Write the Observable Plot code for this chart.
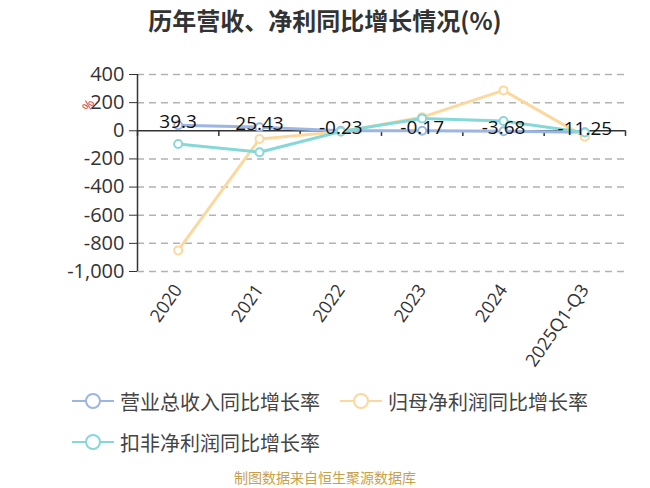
<!DOCTYPE html>
<html>
<head>
<meta charset="utf-8">
<script src="https://cdn.jsdelivr.net/npm/d3@7"></script>
<script src="https://cdn.jsdelivr.net/npm/@observablehq/plot@0.6"></script>
<style>
  html, body { margin: 0; padding: 0; background: #fff; }
  body { width: 650px; height: 488px; overflow: hidden; font-family: "Open Sans", "Noto Sans CJK SC", sans-serif; }
  #title { height: 45px; line-height: 40px; text-align: center; font-family: "Noto Sans CJK SC", sans-serif; font-weight: bold; font-size: 24px; color: #333; }
  #legend { position: absolute; left: 72px; top: 382px; width: 560px; display: flex; flex-wrap: wrap; column-gap: 20px; row-gap: 3px; font-family: "Noto Sans CJK SC", sans-serif; font-size: 20px; color: #444; }
  .item { display: flex; align-items: center; height: 38px; }
  .item svg { margin-right: 6px; }
  #caption { position: absolute; left: 0; top: 467px; width: 650px; text-align: center; font-family: "Noto Sans CJK SC", sans-serif; font-size: 14px; color: #c9a04a; }
  #chart { position: absolute; left: 0; top: 45px; }
</style>
</head>
<body>
<div id="title">历年营收、净利同比增长情况(%)</div>
<div id="chart"></div>
<div id="legend"></div>
<div id="caption">制图数据来自恒生聚源数据库</div>
<script>
const categories = ["2020", "2021", "2022", "2023", "2024", "2025Q1-Q3"];
const revenueGrowth = [39.3, 25.43, -0.23, -0.17, -3.68, -11.25];
const netProfitGrowth = [-850, -58, -6, 97, 287, -43];
const deductedProfitGrowth = [-94, -152, -5, 88, 69, -12];
const yTicks = [400, 200, 0, -200, -400, -600, -800, -1000];
const seriesNames = ["营业总收入同比增长率", "归母净利润同比增长率", "扣非净利润同比增长率"];
const seriesColors = ["#9db5e2", "#fdd89e", "#86d8d8"];

const seriesValues = [revenueGrowth, netProfitGrowth, deductedProfitGrowth];
const idx = categories.map((_, i) => i);
const boundaries = d3.range(categories.length + 1).map(i => i - 0.5);
const rows = seriesValues.map((vals, s) => vals.map((v, i) => ({i, v, s})));
const fmt = d => d.toLocaleString("en-US");

const marks = [
  Plot.ruleY(yTicks.filter(d => d !== 0), {stroke: "#b3b3b3", strokeWidth: 1.5, strokeDasharray: "7,5"}),
  Plot.ruleX([-0.5], {stroke: "#333", strokeWidth: 1.5}),
  Plot.ruleY([0], {stroke: "#333", strokeWidth: 1.5}),
  Plot.ruleX(boundaries, {y1: 0, y2: -40, stroke: "#333", strokeWidth: 1.5}),
  Plot.axisY({ticks: yTicks, tickFormat: fmt, tickSize: 8, tickPadding: 5, fontSize: 20, color: "#333", stroke: "#333", label: null}),
  Plot.axisX({ticks: idx, tickFormat: i => categories[i], tickSize: 0, tickRotate: -55, fontSize: 18, tickPadding: 15, color: "#333", label: null})
];
rows.forEach((r, s) => {
  marks.push(Plot.line(r, {x: "i", y: "v", stroke: seriesColors[s], strokeWidth: 3}));
  marks.push(Plot.dot(r, {x: "i", y: "v", r: 4, stroke: seriesColors[s], strokeWidth: 2, fill: "#fff"}));
});
marks.push(Plot.text(rows[0], {x: "i", y: "v", text: d => String(d.v), dy: -3, fontSize: 19, fill: "#111"}));
marks.push(Plot.text(["%"], {frameAnchor: "top-left", dx: -56, dy: 33, rotate: -60, fill: "#e03030", fontSize: 13}));

const chart = Plot.plot({
  width: 650,
  height: 335,
  marginLeft: 137,
  marginRight: 25,
  marginTop: 29,
  marginBottom: 109,
  style: {fontFamily: '"Open Sans", "Noto Sans CJK SC", sans-serif', color: "#333", background: "transparent"},
  x: {type: "linear", domain: [-0.5, categories.length - 0.5], axis: null},
  y: {domain: [-1000, 400], axis: null},
  marks
});
document.getElementById("chart").appendChild(chart);

const legend = document.getElementById("legend");
seriesNames.forEach((name, s) => {
  const item = document.createElement("div");
  item.className = "item";
  item.innerHTML = `<svg width="42" height="20"><line x1="0" x2="42" y1="10" y2="10" stroke="${seriesColors[s]}" stroke-width="2"/><circle cx="21" cy="10" r="7" fill="#fff" stroke="${seriesColors[s]}" stroke-width="2"/></svg><span>${name}</span>`;
  legend.appendChild(item);
});
</script>
</body>
</html>
